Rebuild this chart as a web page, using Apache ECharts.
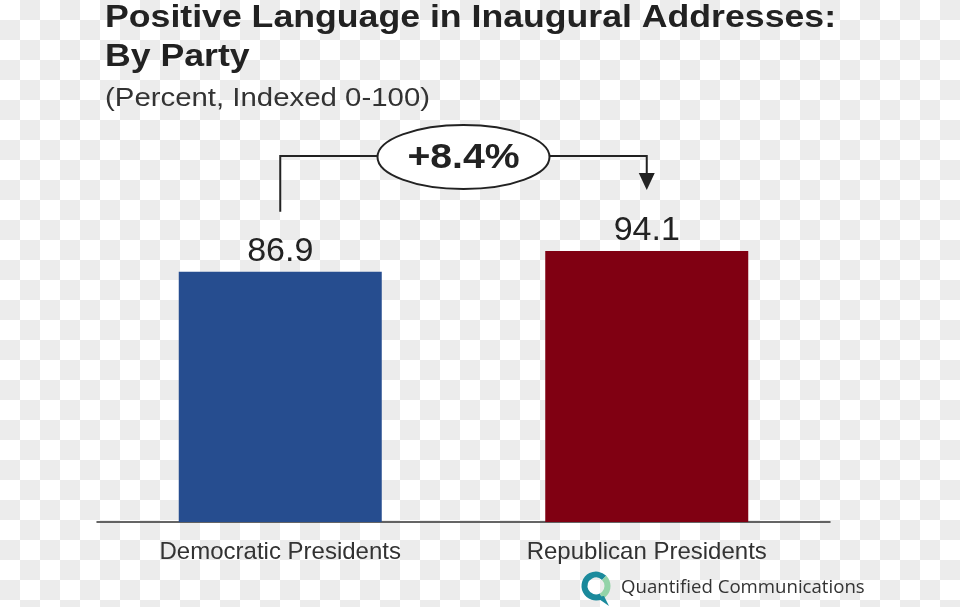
<!DOCTYPE html>
<html><head><meta charset="utf-8">
<script src="https://cdn.jsdelivr.net/npm/echarts@6/dist/echarts.min.js"></script>
<style>
html,body{margin:0;padding:0;}
body{width:960px;height:607px;background-color:#fff;background-image:conic-gradient(#ececec 0 25%, #fff 0 50%, #ececec 0 75%, #fff 0 100%);background-size:40px 40px;}
#c{width:960px;height:607px;}
</style></head><body><div id="c"></div>
<script>
const categories = ['Democratic Presidents', 'Republican Presidents'];
const values = [86.9, 94.1];
const barColors = ['#264d8f', '#800012'];
const titleLines = ['Positive Language in Inaugural Addresses:', 'By Party'];
const subtitleText = '(Percent, Indexed 0-100)';
const changeLabel = '+8.4%';
const brandText = 'Quantified Communications';

const FONT = '"Liberation Sans", Arial, Helvetica, sans-serif';
const chart = echarts.init(document.getElementById('c'), null, {renderer: 'canvas'});

const baseOption = {
  backgroundColor: 'transparent',
  animation: false,
  grid: {left: 97, right: 130, top: 234, bottom: 85},
  xAxis: {
    type: 'category',
    data: categories,
    axisLine: {lineStyle: {color: '#333', width: 1.5}},
    axisTick: {show: false},
    axisLabel: {fontSize: 24, color: '#333', fontFamily: FONT, margin: 18}
  },
  yAxis: {type: 'value', min: 0, max: 100, show: false, splitLine: {show: false}},
  series: [{
    type: 'bar',
    barWidth: 203,
    data: values.map((v, i) => ({value: v, itemStyle: {color: barColors[i]}})),
    label: {show: true, position: 'top', distance: 3, fontSize: 34, color: '#222', fontFamily: FONT}
  }]
};
chart.setOption(baseOption);

const p0 = chart.convertToPixel({gridIndex: 0}, [0, values[0]]);
const p1 = chart.convertToPixel({gridIndex: 0}, [1, values[1]]);
const x0 = p0[0], x1 = p1[0];
const bracketY = Math.min(p0[1], p1[1]) - 95;
const cx = (x0 + x1) / 2;
const rx = 86, ry = 32;
const tipY = p1[1] - 61;
const lineStyle = {stroke: '#222', lineWidth: 2, fill: null};

chart.setOption({
  graphic: [
    {type: 'text', x: 105, y: 18, scaleX: 1.15, style: {text: titleLines[0], font: 'bold 31px ' + FONT, fill: '#222', textAlign: 'left', textVerticalAlign: 'middle'}},
    {type: 'text', x: 105, y: 57, scaleX: 1.15, style: {text: titleLines[1], font: 'bold 31px ' + FONT, fill: '#222', textAlign: 'left', textVerticalAlign: 'middle'}},
    {type: 'text', x: 105, y: 99, scaleX: 1.13, style: {text: subtitleText, font: '26px ' + FONT, fill: '#333', textAlign: 'left', textVerticalAlign: 'middle'}},
    {type: 'polyline', shape: {points: [[x0, p0[1] - 60], [x0, bracketY], [cx - rx, bracketY]]}, style: lineStyle},
    {type: 'polyline', shape: {points: [[cx + rx, bracketY], [x1, bracketY], [x1, tipY - 15]]}, style: lineStyle},
    {type: 'polygon', shape: {points: [[x1 - 8, tipY - 17], [x1 + 8, tipY - 17], [x1, tipY]]}, style: {fill: '#222'}},
    {type: 'ellipse', shape: {cx: cx, cy: bracketY + 1, rx: rx, ry: ry}, style: {fill: '#fff', stroke: '#222', lineWidth: 2}},
    {type: 'text', x: cx, y: bracketY + 2, scaleX: 1.12, style: {text: changeLabel, font: 'bold 35px ' + FONT, fill: '#222', textAlign: 'center', textVerticalAlign: 'middle'}},
    {type: 'arc', shape: {cx: 596, cy: 586, r: 11.5, startAngle: Math.PI * 0.35, endAngle: Math.PI * 1.75}, style: {stroke: '#1b8a9c', lineWidth: 6, fill: null}},
    {type: 'arc', shape: {cx: 596, cy: 586, r: 11.5, startAngle: -Math.PI * 0.25, endAngle: Math.PI * 0.35}, style: {stroke: '#93d3a8', lineWidth: 6, fill: null}},
    {type: 'polygon', shape: {points: [[596, 597], [604, 596], [609, 606]]}, style: {fill: '#1b8a9c'}},
    {type: 'text', x: 621, y: 588, scaleX: 0.98, style: {text: brandText, font: '19px "Open Sans", "Noto Sans", sans-serif', fill: '#333', textAlign: 'left', textVerticalAlign: 'middle'}}
  ]
});
</script></body></html>
